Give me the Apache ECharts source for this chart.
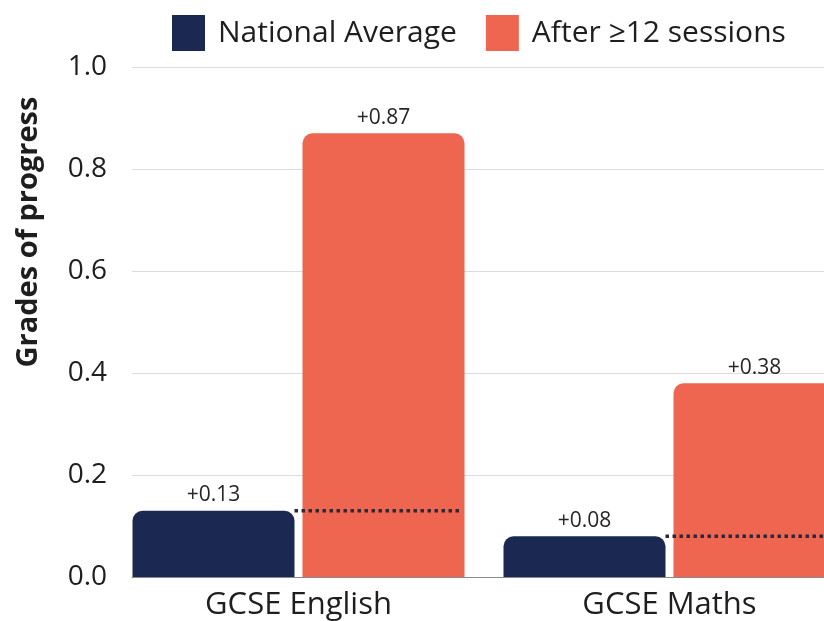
<!DOCTYPE html>
<html>
<head>
<meta charset="utf-8">
<script src="https://cdn.jsdelivr.net/npm/echarts@6/dist/echarts.min.js"></script>
<style>
  html, body { margin: 0; padding: 0; background: #fff; }
  #chart { width: 824px; height: 621px; }
</style>
</head>
<body>
<div id="chart"></div>
<script>
// Progress data (grades of progress)
const categories = ['GCSE English', 'GCSE Maths'];
const nationalAverage = [0.13, 0.08];
const afterSessions = [0.87, 0.38];
const seriesNames = ['National Average', 'After \u226512 sessions'];

// Layout constants (pixels)
const FONT = '"Open Sans", "Noto Sans", sans-serif';
const GRID_LEFT = 132;
const GRID_TOP = 67;
const GRID_BOTTOM = 44;
const CHART_W = 824;
const PX_PER_CAT = 371;      // distance between category centres
const FIRST_CENTER = 166.5;  // first category centre, from grid left
const BAR_W = 162;
const BAR_GAP = 8;

const xMin = -FIRST_CENTER / PX_PER_CAT;
const xMax = xMin + (CHART_W - GRID_LEFT) / PX_PER_CAT;

const NAVY = '#1b2952';
const CORAL = '#ee6550';

const labelStyle = {
  show: true,
  position: 'top',
  distance: 5,
  fontFamily: FONT,
  fontSize: 21,
  color: '#262626',
  formatter: p => '+' + p.value[1].toFixed(2)
};

// dotted reference lines: national level carried across the coral bar
const refSeries = nationalAverage.map((v, i) => ({
  name: 'ref-' + categories[i],
  type: 'line',
  symbol: 'none',
  silent: true,
  z: 10,
  lineStyle: { color: '#2e2839', width: 3.5, type: [3.5, 3.5], cap: 'butt' },
  data: [
    [i - (BAR_GAP / 2) / PX_PER_CAT, v],
    [i + (BAR_GAP / 2 + BAR_W - 3) / PX_PER_CAT, v]
  ]
}));

const chart = echarts.init(document.getElementById('chart'), null, { renderer: 'canvas' });
chart.setOption({
  animation: false,
  backgroundColor: '#ffffff',
  legend: {
    top: 10,
    left: 167,
    icon: 'rect',
    itemWidth: 33,
    itemHeight: 36,
    itemGap: 29,
    textStyle: { fontFamily: FONT, fontSize: 30, color: '#1e1e1e', padding: [0, 0, 0, 8] },
    data: seriesNames
  },
  grid: {
    left: GRID_LEFT, right: 0, top: GRID_TOP, bottom: GRID_BOTTOM,
    containLabel: false,
    outerBoundsMode: 'none'
  },
  xAxis: {
    type: 'value',
    min: xMin,
    max: xMax,
    axisLine: { show: true, lineStyle: { color: '#8a8a8a', width: 1 } },
    axisTick: { show: false },
    splitLine: { show: false },
    axisLabel: {
      customValues: categories.map((c, i) => i),
      formatter: v => categories[Math.round(v)],
      fontFamily: FONT,
      fontSize: 31,
      color: '#1e1e1e',
      margin: 13
    }
  },
  yAxis: {
    type: 'value',
    min: 0,
    max: 1,
    interval: 0.2,
    name: 'Grades of progress',
    nameLocation: 'middle',
    nameGap: 89,
    nameRotate: 90,
    nameTextStyle: {
      fontFamily: FONT,
      fontSize: 29,
      fontWeight: 'bold',
      color: '#1e1e1e',
      padding: [0, 0, 0, 180]
    },
    axisLine: { show: false },
    axisTick: { show: false },
    splitLine: { show: true, lineStyle: { color: '#dcdcdc', width: 1 } },
    axisLabel: {
      formatter: v => v.toFixed(1),
      fontFamily: FONT,
      fontSize: 28,
      color: '#1e1e1e',
      margin: 25
    }
  },
  series: [
    {
      name: seriesNames[0],
      type: 'bar',
      barWidth: BAR_W,
      barGap: (BAR_GAP / BAR_W * 100) + '%',
      data: nationalAverage.map((v, i) => [i, v]),
      itemStyle: { color: NAVY, borderRadius: [10, 10, 0, 0] },
      label: labelStyle
    },
    {
      name: seriesNames[1],
      type: 'bar',
      barWidth: BAR_W,
      barGap: (BAR_GAP / BAR_W * 100) + '%',
      data: afterSessions.map((v, i) => [i, v]),
      itemStyle: { color: CORAL, borderRadius: [10, 10, 0, 0] },
      label: labelStyle
    }
  ].concat(refSeries)
});
</script>
</body>
</html>
